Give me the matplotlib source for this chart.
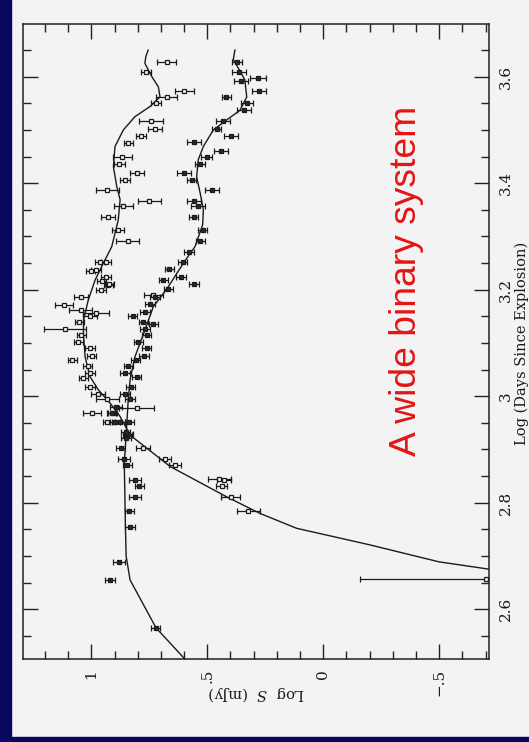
import matplotlib
matplotlib.use('Agg')
import matplotlib.pyplot as plt
import numpy as np
from matplotlib.patches import Rectangle
from matplotlib.ticker import MultipleLocator

# log(days since explosion), log S (mJy), error in log S
open_days = [2.656, 2.785, 2.810, 2.832, 2.843, 2.844, 2.871, 2.882, 2.902, 2.952,
             2.968, 2.969, 2.977, 2.994, 3.004, 3.017, 3.035, 3.043, 3.057, 3.068,
             3.076, 3.091, 3.102, 3.115, 3.126, 3.140, 3.151, 3.156, 3.161, 3.171,
             3.186, 3.190, 3.200, 3.209, 3.210, 3.217, 3.224, 3.236, 3.237, 3.252,
             3.252, 3.291, 3.312, 3.337, 3.358, 3.367, 3.387, 3.406, 3.419, 3.436,
             3.449, 3.476, 3.489, 3.502, 3.516, 3.550, 3.562, 3.574, 3.608, 3.628]
open_flux = [-0.700, 0.323, 0.399, 0.438, 0.428, 0.448, 0.639, 0.682, 0.776, 0.931,
             0.998, 0.908, 0.804, 0.931, 0.970, 1.006, 1.034, 1.006, 1.016, 1.082,
             0.998, 1.006, 1.056, 1.044, 1.113, 1.052, 1.006, 0.980, 1.046, 1.118,
             1.046, 0.733, 0.958, 0.927, 0.922, 0.956, 0.937, 1.003, 0.980, 0.963,
             0.937, 0.843, 0.886, 0.927, 0.862, 0.750, 0.932, 0.855, 0.802, 0.879,
             0.866, 0.840, 0.786, 0.725, 0.743, 0.721, 0.675, 0.599, 0.764, 0.675]
open_err = [0.542, 0.050, 0.040, 0.025, 0.030, 0.050, 0.025, 0.025, 0.030, 0.020,
            0.040, 0.020, 0.075, 0.050, 0.030, 0.020, 0.020, 0.020, 0.020, 0.020,
            0.020, 0.020, 0.020, 0.020, 0.090, 0.020, 0.030, 0.055, 0.050, 0.040,
            0.030, 0.040, 0.020, 0.020, 0.020, 0.020, 0.020, 0.020, 0.020, 0.020,
            0.020, 0.050, 0.025, 0.030, 0.040, 0.050, 0.050, 0.020, 0.030, 0.025,
            0.040, 0.020, 0.020, 0.030, 0.050, 0.020, 0.045, 0.040, 0.020, 0.040]

fill_days = [2.565, 2.655, 2.688, 2.754, 2.785, 2.810, 2.832, 2.843, 2.871, 2.882,
             2.903, 2.921, 2.927, 2.930, 2.933, 2.952, 2.952, 2.952, 2.968, 2.980,
             2.994, 3.004, 3.018, 3.036, 3.043, 3.057, 3.068, 3.076, 3.091, 3.102,
             3.115, 3.126, 3.135, 3.140, 3.151, 3.158, 3.173, 3.186, 3.201, 3.210,
             3.218, 3.224, 3.238, 3.252, 3.270, 3.291, 3.312, 3.337, 3.358, 3.367,
             3.388, 3.406, 3.419, 3.436, 3.449, 3.460, 3.477, 3.489, 3.502, 3.516,
             3.537, 3.551, 3.562, 3.574, 3.592, 3.598, 3.608, 3.628]
fill_flux = [0.723, 0.919, 0.882, 0.833, 0.836, 0.812, 0.793, 0.812, 0.845, 0.858,
             0.874, 0.850, 0.845, 0.840, 0.852, 0.898, 0.876, 0.836, 0.912, 0.894,
             0.833, 0.855, 0.830, 0.804, 0.855, 0.841, 0.809, 0.773, 0.761, 0.797,
             0.761, 0.769, 0.733, 0.776, 0.822, 0.769, 0.747, 0.725, 0.668, 0.557,
             0.690, 0.613, 0.664, 0.606, 0.579, 0.530, 0.520, 0.559, 0.541, 0.557,
             0.478, 0.567, 0.599, 0.531, 0.503, 0.442, 0.556, 0.398, 0.459, 0.434,
             0.341, 0.330, 0.418, 0.276, 0.353, 0.281, 0.365, 0.372]
fill_err = [0.020, 0.020, 0.025, 0.020, 0.020, 0.025, 0.020, 0.025, 0.020, 0.025,
            0.020, 0.020, 0.020, 0.020, 0.020, 0.020, 0.020, 0.020, 0.020, 0.025,
            0.020, 0.020, 0.020, 0.020, 0.020, 0.020, 0.020, 0.020, 0.020, 0.020,
            0.020, 0.020, 0.020, 0.020, 0.020, 0.020, 0.020, 0.020, 0.020, 0.020,
            0.020, 0.020, 0.020, 0.020, 0.020, 0.020, 0.020, 0.020, 0.030, 0.030,
            0.030, 0.020, 0.030, 0.020, 0.025, 0.030, 0.030, 0.030, 0.020, 0.030,
            0.030, 0.025, 0.020, 0.030, 0.030, 0.035, 0.030, 0.020]

# model light curves
model_a_days = [2.662, 2.675, 2.689, 2.721, 2.752, 2.780, 2.811, 2.868, 2.927, 2.962,
                2.987, 3.012, 3.037, 3.074, 3.118, 3.143, 3.181, 3.218, 3.250, 3.281,
                3.331, 3.369, 3.393, 3.431, 3.469, 3.500, 3.525, 3.544, 3.562, 3.581,
                3.600, 3.625, 3.638, 3.650]
model_a_flux = [-0.92, -0.719, -0.499, -0.200, 0.115, 0.273, 0.416, 0.660, 0.833, 0.876,
                0.919, 0.970, 1.006, 1.027, 1.034, 1.034, 1.013, 0.984, 0.948, 0.912,
                0.884, 0.876, 0.890, 0.905, 0.898, 0.862, 0.812, 0.747, 0.704, 0.711,
                0.739, 0.769, 0.765, 0.755]
model_b_days = [2.500, 2.565, 2.655, 2.700, 2.755, 2.874, 2.927, 2.993, 3.031, 3.074,
                3.124, 3.168, 3.201, 3.250, 3.281, 3.322, 3.350, 3.380, 3.412, 3.444,
                3.469, 3.500, 3.519, 3.537, 3.562, 3.594, 3.613, 3.632, 3.650]
model_b_flux = [0.583, 0.721, 0.833, 0.850, 0.853, 0.858, 0.850, 0.841, 0.833, 0.812,
                0.769, 0.733, 0.675, 0.603, 0.553, 0.520, 0.517, 0.530, 0.546, 0.539,
                0.517, 0.474, 0.416, 0.359, 0.330, 0.338, 0.362, 0.388, 0.381]

flux_ticks = [1, 0.5, 0, -0.5]
flux_labels = ['1', '.5', '0', '\u2212.5']
day_ticks = [2.6, 2.8, 3.0, 3.2, 3.4, 3.6]
day_labels = ['2.6', '2.8', '3', '3.2', '3.4', '3.6']

navy = '#07075f'
paper = '#f3f3f3'
ink = '#1a1a1a'

W, H = 529, 742
fig = plt.figure(figsize=(W / 100, H / 100), dpi=100)
fig.set_facecolor(paper)
fig.add_artist(Rectangle((0, 0), 10.8 / W, 1, transform=fig.transFigure,
                         color=navy, zorder=0))
fig.add_artist(Rectangle((0, 0), 1, 4.7 / H, transform=fig.transFigure,
                         color=navy, zorder=0))

# the plot is drawn turned on its side: flux runs right-to-left, time bottom-to-top
x0, x1, y0, y1 = 22.7, 489.3, 24.0, 659.3
ax = fig.add_axes([x0 / W, 1 - y1 / H, (x1 - x0) / W, (y1 - y0) / H])
ax.set_facecolor(paper)
ax.set_xlim(1.296, -0.716)
ax.set_ylim(2.506, 3.699)

ax.plot(model_a_flux, model_a_days, color=ink, lw=1.0, zorder=2)
ax.plot(model_b_flux, model_b_days, color=ink, lw=1.0, zorder=2)

ax.errorbar(open_flux, open_days, xerr=open_err, fmt='s', ms=3.2, mfc=paper,
            mec=ink, mew=0.9, ecolor=ink, elinewidth=0.9, capsize=2.0,
            capthick=0.9, zorder=3)
ax.errorbar(fill_flux, fill_days, xerr=fill_err, fmt='s', ms=3.0, mfc='#2a2a2a',
            mec=ink, mew=0.9, ecolor=ink, elinewidth=0.9, capsize=2.0,
            capthick=0.9, zorder=3)

for s in ax.spines.values():
    s.set_linewidth(1.1)
    s.set_color('#222222')

ax.xaxis.set_major_locator(plt.FixedLocator(flux_ticks))
ax.xaxis.set_minor_locator(MultipleLocator(0.1))
ax.yaxis.set_major_locator(plt.FixedLocator(day_ticks))
ax.yaxis.set_minor_locator(MultipleLocator(0.05))
ax.set_xticklabels(flux_labels)
ax.set_yticklabels(day_labels)

ax.tick_params(which='both', direction='in', top=True, bottom=True, left=True,
               right=True, labelleft=False, labelright=True, color='#222222')
ax.tick_params(which='major', length=11, width=1.0, pad=7)
ax.tick_params(which='minor', length=6, width=1.0)
for lab in ax.get_xticklabels() + ax.get_yticklabels():
    lab.set_rotation(90)
    lab.set_fontfamily('DejaVu Serif')
    lab.set_fontsize(11)
    lab.set_color(ink)
for lab in ax.get_yticklabels():
    lab.set_va('center')

plt.rcParams['mathtext.fontset'] = 'dejavuserif'
fig.text(257 / W, 1 - 693.5 / H, 'Log  $S$  (mJy)', rotation=180, ha='center',
         va='center', fontsize=10.5, family='DejaVu Serif', color=ink)
fig.text(522 / W, 1 - 343 / H, 'Log (Days Since Explosion)', rotation=90,
         ha='center', va='center', fontsize=10.5, family='DejaVu Serif', color=ink)

fig.text(407 / W, 1 - 281 / H, 'A wide binary system', rotation=90, ha='center',
         va='center', fontsize=26.8, family='Liberation Sans', color='#e41414')

fig.savefig('out.png', dpi=100, facecolor=fig.get_facecolor())
